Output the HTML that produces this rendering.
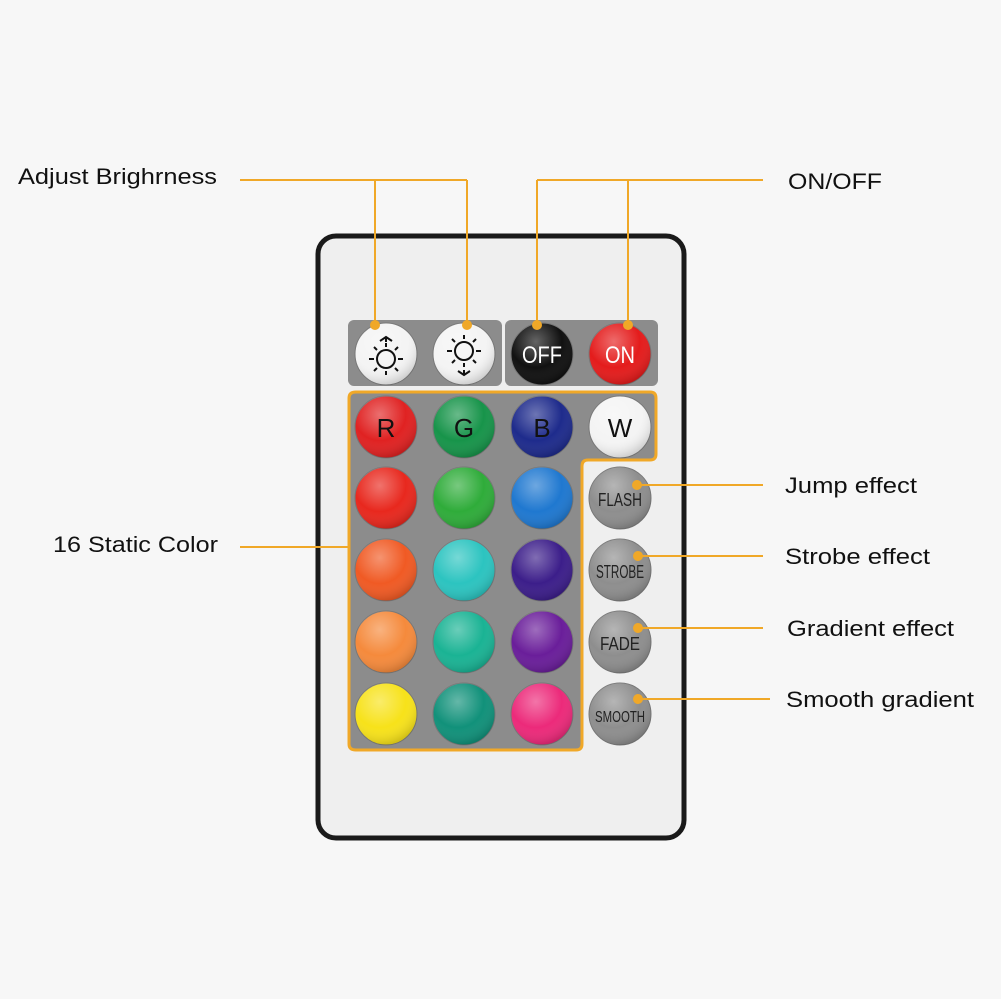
<!DOCTYPE html>
<html><head><meta charset="utf-8"><style>
html,body{margin:0;padding:0;background:#f7f7f7;}
svg{display:block}
text{font-family:"Liberation Sans",Arial,sans-serif;}
</style></head><body>
<svg width="1001" height="999" viewBox="0 0 1001 999" xmlns="http://www.w3.org/2000/svg">
<defs>
<radialGradient id="sh" cx="40%" cy="30%" r="70%">
<stop offset="0" stop-color="#fff" stop-opacity="0.35"/>
<stop offset="0.6" stop-color="#fff" stop-opacity="0"/>
<stop offset="1" stop-color="#000" stop-opacity="0.15"/>
</radialGradient>
</defs>
<rect width="1001" height="999" fill="#f7f7f7"/>
<!-- remote -->
<rect x="318" y="236" width="366" height="602" rx="18" fill="#efefef" stroke="#1a1a1a" stroke-width="5"/>
<!-- top panels -->
<rect x="348" y="320" width="154" height="66" rx="6" fill="#8c8c8c"/>
<rect x="505" y="320" width="153" height="66" rx="6" fill="#8c8c8c"/>
<!-- color panel -->
<path d="M356 392 H650 Q656 392 656 398 V454 Q656 460 650 460 H588 Q582 460 582 466 V744 Q582 750 576 750 H356 Q349 750 349 744 V398 Q349 392 356 392 Z" fill="#8c8c8c" stroke="#f0a828" stroke-width="3"/>
<!-- buttons -->
<g stroke="#777" stroke-width="1">
<circle cx="386" cy="354" r="31" fill="#f4f4f4"/>
<circle cx="464" cy="354" r="31" fill="#f4f4f4"/>
<circle cx="542" cy="354" r="31" fill="#111"/>
<circle cx="620" cy="354" r="31" fill="#e41c1c"/>
<circle cx="386" cy="427" r="31" fill="#e02222"/>
<circle cx="464" cy="427" r="31" fill="#17944a"/>
<circle cx="542" cy="427" r="31" fill="#1e2b8c"/>
<circle cx="620" cy="427" r="31" fill="#f4f4f4"/>
<circle cx="386" cy="498" r="31" fill="#e8281e"/>
<circle cx="464" cy="498" r="31" fill="#2fac3a"/>
<circle cx="542" cy="498" r="31" fill="#1f78d0"/>
<circle cx="386" cy="570" r="31" fill="#f05a24"/>
<circle cx="464" cy="570" r="31" fill="#2cc4c0"/>
<circle cx="542" cy="570" r="31" fill="#3c1e8a"/>
<circle cx="386" cy="642" r="31" fill="#f58a3c"/>
<circle cx="464" cy="642" r="31" fill="#1ab394"/>
<circle cx="542" cy="642" r="31" fill="#6a1e9a"/>
<circle cx="386" cy="714" r="31" fill="#f7e21a"/>
<circle cx="464" cy="714" r="31" fill="#11917a"/>
<circle cx="542" cy="714" r="31" fill="#ec2a7a"/>
<circle cx="620" cy="498" r="31" fill="#8e8e8e"/>
<circle cx="620" cy="570" r="31" fill="#8e8e8e"/>
<circle cx="620" cy="642" r="31" fill="#8e8e8e"/>
<circle cx="620" cy="714" r="31" fill="#8e8e8e"/>
</g>
<g fill="url(#sh)">
<circle cx="386" cy="354" r="31"/><circle cx="464" cy="354" r="31"/><circle cx="542" cy="354" r="31"/><circle cx="620" cy="354" r="31"/>
<circle cx="386" cy="427" r="31"/><circle cx="464" cy="427" r="31"/><circle cx="542" cy="427" r="31"/><circle cx="620" cy="427" r="31"/>
<circle cx="386" cy="498" r="31"/><circle cx="464" cy="498" r="31"/><circle cx="542" cy="498" r="31"/><circle cx="620" cy="498" r="31"/>
<circle cx="386" cy="570" r="31"/><circle cx="464" cy="570" r="31"/><circle cx="542" cy="570" r="31"/><circle cx="620" cy="570" r="31"/>
<circle cx="386" cy="642" r="31"/><circle cx="464" cy="642" r="31"/><circle cx="542" cy="642" r="31"/><circle cx="620" cy="642" r="31"/>
<circle cx="386" cy="714" r="31"/><circle cx="464" cy="714" r="31"/><circle cx="542" cy="714" r="31"/><circle cx="620" cy="714" r="31"/>
</g>
<!-- sun icons -->
<g stroke="#111" stroke-width="2" fill="none">
<circle cx="386" cy="359" r="9"/>
<path d="M374 359h-5M398 359h5M386 347v-4M386 371v4M377 350l-3-3M395 350l3-3M377 368l-3 3M395 368l3 3"/>
<path d="M380 341l6-4 6 4M386 337v5"/>
<circle cx="464" cy="351" r="9"/>
<path d="M452 351h-5M476 351h5M464 339v-4M464 363v4M455 342l-3-3M473 342l3-3M455 360l-3 3M473 360l3 3"/>
<path d="M458 371l6 4 6-4M464 375v-5"/>
</g>
<g font-size="24" text-anchor="middle" font-family="Liberation Sans Narrow,Liberation Sans,sans-serif">
<text x="542" y="363" fill="#fff" textLength="40" lengthAdjust="spacingAndGlyphs">OFF</text>
<text x="620" y="363" fill="#fff" textLength="30" lengthAdjust="spacingAndGlyphs">ON</text>
<text x="386" y="437" fill="#111" font-size="26">R</text>
<text x="464" y="437" fill="#111" font-size="26">G</text>
<text x="542" y="437" fill="#111" font-size="26">B</text>
<text x="620" y="437" fill="#111" font-size="26">W</text>
<text x="620" y="506" fill="#222" font-size="18" textLength="44" lengthAdjust="spacingAndGlyphs">FLASH</text>
<text x="620" y="578" fill="#222" font-size="18" textLength="48" lengthAdjust="spacingAndGlyphs">STROBE</text>
<text x="620" y="650" fill="#222" font-size="18" textLength="40" lengthAdjust="spacingAndGlyphs">FADE</text>
<text x="620" y="722" fill="#222" font-size="16" textLength="50" lengthAdjust="spacingAndGlyphs">SMOOTH</text>
</g>
<!-- callouts -->
<g stroke="#f0a828" stroke-width="2" fill="none">
<path d="M240 180H467M375 180V325M467 180V325"/>
<path d="M537 180H763M537 180V325M628 180V325"/>
<path d="M637 485H763M638 556H763M638 628H763M638 699H770"/>
<path d="M240 547H348"/>
</g>
<g fill="#f0a828">
<circle cx="375" cy="325" r="5"/><circle cx="467" cy="325" r="5"/><circle cx="537" cy="325" r="5"/><circle cx="628" cy="325" r="5"/>
<circle cx="637" cy="485" r="5"/><circle cx="638" cy="556" r="5"/><circle cx="638" cy="628" r="5"/><circle cx="638" cy="699" r="5"/>
</g>
<g font-size="22" fill="#111">
<text x="18" y="184" textLength="199" lengthAdjust="spacingAndGlyphs">Adjust Brighrness</text>
<text x="788" y="189" textLength="94" lengthAdjust="spacingAndGlyphs">ON/OFF</text>
<text x="53" y="552" textLength="165" lengthAdjust="spacingAndGlyphs">16 Static Color</text>
<text x="785" y="493" textLength="132" lengthAdjust="spacingAndGlyphs">Jump effect</text>
<text x="785" y="564" textLength="145" lengthAdjust="spacingAndGlyphs">Strobe effect</text>
<text x="787" y="636" textLength="167" lengthAdjust="spacingAndGlyphs">Gradient effect</text>
<text x="786" y="707" textLength="188" lengthAdjust="spacingAndGlyphs">Smooth gradient</text>
</g>
</svg>
</body></html>
